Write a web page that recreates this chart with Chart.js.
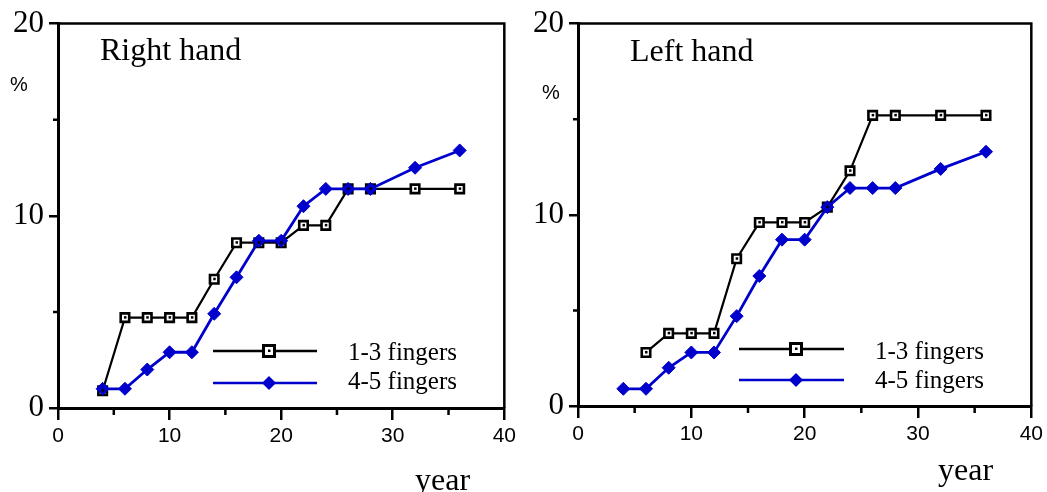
<!DOCTYPE html>
<html>
<head>
<meta charset="utf-8">
<script src="https://cdn.jsdelivr.net/npm/chart.js@4/dist/chart.umd.min.js"></script>
<style>
  body { margin: 0; background: #fff; }
  .wrap { position: absolute; top: 0; height: 492px; }
</style>
</head>
<body>
<div class="wrap" style="left:0;width:520px"><canvas id="rightHand" width="520" height="492"></canvas></div>
<div class="wrap" style="left:520px;width:527px"><canvas id="leftHand" width="527" height="492"></canvas></div>
<script>
// data (percent by year)
const rightYears13 = [4, 6, 8, 10, 12, 14, 16, 18, 20, 22, 24, 26, 28, 32, 36];
const right13 = [0.9, 4.7, 4.7, 4.7, 4.7, 6.7, 8.6, 8.6, 8.6, 9.5, 9.5, 11.4, 11.4, 11.4, 11.4];
const rightYears45 = [4, 6, 8, 10, 12, 14, 16, 18, 20, 22, 24, 26, 28, 32, 36];
const right45 = [1.0, 1.0, 2.0, 2.9, 2.9, 4.9, 6.8, 8.7, 8.7, 10.5, 11.4, 11.4, 11.4, 12.5, 13.4];

const leftYears13 = [6, 8, 10, 12, 14, 16, 18, 20, 22, 24, 26, 28, 32, 36];
const left13 = [2.8, 3.8, 3.8, 3.8, 7.7, 9.6, 9.6, 9.6, 10.4, 12.3, 15.2, 15.2, 15.2, 15.2];
const leftYears45 = [4, 6, 8, 10, 12, 14, 16, 18, 20, 22, 24, 26, 28, 32, 36];
const left45 = [0.9, 0.9, 2.0, 2.8, 2.8, 4.7, 6.8, 8.7, 8.7, 10.4, 11.4, 11.4, 11.4, 12.4, 13.3];

const seriesLabels = ['1-3 fingers', '4-5 fingers'];
const xTicks = [0, 10, 20, 30, 40];
const xMinor = [5, 15, 25, 35];
const yTicks = [0, 10, 20];
const yMinor = [5, 15];

const BLUE = '#0000cc';

function pts(xs, ys) {
    return xs.map((x, i) => ({x: x, y: ys[i]}));
}

// frame, minor ticks, labels, legend and the little dot inside the square markers
const extras = {
    id: 'extras',
    afterDraw(chart, args, o) {
        const ctx = chart.ctx;
        const a = chart.chartArea;
        const sx = chart.scales.x, sy = chart.scales.y;
        ctx.save();
        ctx.strokeStyle = '#000';
        ctx.lineWidth = 2.5;
        ctx.beginPath();
        ctx.moveTo(a.left, a.top);
        ctx.lineTo(a.right, a.top);
        ctx.lineTo(a.right, a.bottom);
        ctx.stroke();

        // minor ticks
        ctx.lineWidth = 2.5;
        ctx.beginPath();
        xMinor.forEach(v => {
            const px = sx.getPixelForValue(v);
            ctx.moveTo(px, a.bottom); ctx.lineTo(px, a.bottom + 7);
        });
        yMinor.forEach(v => {
            const py = sy.getPixelForValue(v);
            ctx.moveTo(a.left, py); ctx.lineTo(a.left - 5, py);
        });
        ctx.stroke();

        // dots inside squares
        ctx.fillStyle = '#000';
        chart.getDatasetMeta(0).data.forEach(p => {
            ctx.fillRect(p.x - 1, p.y - 1.5, 2.5, 2.5);
        });

        ctx.fillStyle = '#000';
        ctx.textBaseline = 'alphabetic';
        ctx.font = '32px "Liberation Serif"';
        ctx.fillText(o.title, o.titleX, o.titleY);
        ctx.font = '20px "Liberation Sans"';
        ctx.fillText('%', o.pctX, o.pctY);
        ctx.font = '32px "Liberation Serif"';
        ctx.fillText('year', o.yearX, o.yearY);

        // legend
        const L = o.legend;
        ctx.lineWidth = 2.5;
        ctx.strokeStyle = '#000';
        ctx.beginPath();
        ctx.moveTo(L.x0, L.y1); ctx.lineTo(L.x1, L.y1);
        ctx.stroke();
        ctx.fillStyle = '#fff';
        ctx.lineWidth = 3;
        ctx.fillRect(L.mx - 5.5, L.y1 - 5.5, 11, 11);
        ctx.strokeRect(L.mx - 5.5, L.y1 - 5.5, 11, 11);
        ctx.fillStyle = '#000';
        ctx.fillRect(L.mx - 1, L.y1 - 1.5, 2.5, 2.5);

        ctx.lineWidth = 2.5;
        ctx.strokeStyle = BLUE;
        ctx.beginPath();
        ctx.moveTo(L.x0, L.y2); ctx.lineTo(L.x1, L.y2);
        ctx.stroke();
        ctx.fillStyle = BLUE;
        ctx.beginPath();
        ctx.moveTo(L.mx - 7, L.y2);
        ctx.lineTo(L.mx, L.y2 - 7);
        ctx.lineTo(L.mx + 7, L.y2);
        ctx.lineTo(L.mx, L.y2 + 7);
        ctx.closePath();
        ctx.fill();

        ctx.fillStyle = '#000';
        ctx.font = '25px "Liberation Serif"';
        ctx.fillText(seriesLabels[0], L.tx, L.t1);
        ctx.fillText(seriesLabels[1], L.tx, L.t2);
        ctx.restore();
    }
};

function makeChart(id, xs13, ys13, xs45, ys45, xAxisH, padRight, extraOpts) {
    return new Chart(document.getElementById(id), {
        type: 'line',
        data: {
            datasets: [{
                label: seriesLabels[0],
                data: pts(xs13, ys13),
                borderColor: '#000',
                borderWidth: 2.2,
                pointStyle: 'rect',
                pointRadius: 6,
                pointBorderWidth: 2.6,
                pointBackgroundColor: '#fff',
                pointBorderColor: '#000',
                order: 1
            }, {
                label: seriesLabels[1],
                data: pts(xs45, ys45),
                borderColor: BLUE,
                borderWidth: 2.8,
                pointStyle: 'rectRot',
                pointRadius: 6.5,
                pointBorderWidth: 1,
                pointBackgroundColor: BLUE,
                pointBorderColor: BLUE,
                order: 0
            }]
        },
        options: {
            responsive: false,
            animation: false,
            layout: {padding: {top: 22, right: padRight, left: 0, bottom: 0}},
            plugins: {
                legend: {display: false},
                tooltip: {enabled: false},
                extras: extraOpts
            },
            scales: {
                x: {
                    type: 'linear',
                    min: 0, max: 40,
                    afterFit: s => { s.height = xAxisH; },
                    afterBuildTicks: s => {
                        s.ticks = xTicks.map(v => ({value: v}));
                    },
                    ticks: {
                        color: '#000',
                        font: {family: 'Liberation Sans', size: 21},
                        padding: 4,
                        maxRotation: 0,
                        callback: v => String(v)
                    },
                    grid: {drawOnChartArea: false, drawTicks: true, tickLength: 12, color: '#000', lineWidth: 2.5},
                    border: {display: true, color: '#000', width: 3}
                },
                y: {
                    min: 0, max: 20,
                    afterFit: s => { s.width = 58; },
                    afterBuildTicks: s => {
                        s.ticks = yTicks.map(v => ({value: v}));
                    },
                    ticks: {
                        color: '#000',
                        font: {family: 'Liberation Serif', size: 31},
                        padding: 5,
                        callback: v => String(v)
                    },
                    grid: {drawOnChartArea: false, drawTicks: true, tickLength: 9, color: '#000', lineWidth: 2.5},
                    border: {display: true, color: '#000', width: 3}
                }
            }
        },
        plugins: [extras]
    });
}

makeChart('rightHand', rightYears13, right13, rightYears45, right45, 84, 15, {
    title: 'Right hand', titleX: 100, titleY: 60,
    pctX: 10, pctY: 91,
    yearX: 415, yearY: 490,
    legend: {x0: 213, x1: 317, mx: 269, y1: 351, y2: 383, tx: 348, t1: 360, t2: 389}
});

makeChart('leftHand', leftYears13, left13, leftYears45, left45, 86, 14, {
    title: 'Left hand', titleX: 110, titleY: 61,
    pctX: 22, pctY: 99,
    yearX: 418, yearY: 480,
    legend: {x0: 219, x1: 324, mx: 276, y1: 349, y2: 380, tx: 355, t1: 359, t2: 388}
});
</script>
</body>
</html>
